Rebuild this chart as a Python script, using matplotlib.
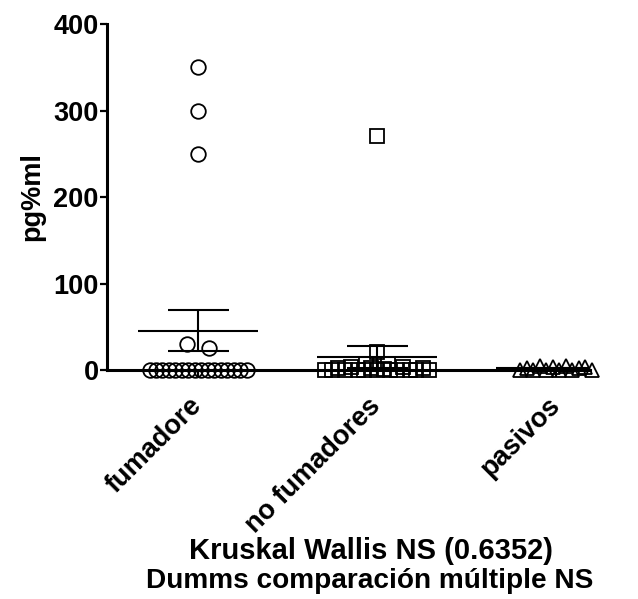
import numpy as np
import matplotlib
matplotlib.use("Agg")
import matplotlib.pyplot as plt

plt.rcParams["font.family"] = ["Liberation Sans", "DejaVu Sans"]
plt.rcParams["font.weight"] = "bold"

# data
groups = ["fumadore", "no fumadores", "pasivos"]
fumadores = [350, 300, 250, 30, 25] + [0] * 16
no_fumadores = [270, 21, 7, 7, 0, 0, 2, 0, 3, 0, 0, 2, 0, 1, 0, 0, 3, 0, 0, 2, 0]
pasivos = [0, 2, 0, 5, 0, 3, 0, 5, 0, 2, 4, 0]
yticks = [0, 100, 200, 300, 400]
footer = ["Kruskal Wallis NS (0.6352)", "Dumms comparación múltiple NS"]

markers = ["o", "s", "^"]
PX = 179.0  # pixels per group unit on x


def spread(values, tol=6.0):
    # put close values in rows and spread each row sideways (Prism style)
    vals = np.asarray(values, float)
    order = np.argsort(vals, kind="stable")
    rows = []
    for k in order:
        if rows and vals[k] - vals[rows[-1][0]] < tol:
            rows[-1].append(k)
        else:
            rows.append([k])
    xs, ys = [], []
    for row in rows:
        row = sorted(row)  # keep listed order inside a row
        n = len(row)
        step = 22.0 if n <= 3 else 6.5
        off = (np.arange(n) - (n - 1) / 2) * step / PX
        xs.extend(off)
        ys.extend(vals[row])
    return np.array(xs), np.array(ys)


fig = plt.figure(figsize=(6.38, 5.99), dpi=100)
ax = fig.add_axes([0.1677, 0.3823, 0.757, 0.5776])

for i, data in enumerate([fumadores, no_fumadores, pasivos]):
    dx, dy = spread(data)
    ax.plot(i + dx, dy, linestyle="none", marker=markers[i], markersize=10.5,
            markerfacecolor="none", markeredgecolor="black", markeredgewidth=1.3,
            clip_on=False, zorder=3)
    arr = np.asarray(data, float)
    m = arr.mean()
    sem = arr.std(ddof=1) / np.sqrt(len(arr))
    ax.hlines(m, i - 0.335, i + 0.335, color="black", lw=1.5, zorder=4)
    ax.hlines([m - sem, m + sem], i - 0.17, i + 0.17, color="black", lw=1.5, zorder=4)
    ax.vlines(i, m - sem, m + sem, color="black", lw=1.5, zorder=4)

ax.set_xlim(-0.51, 2.19)
ax.set_ylim(0, 400)
ax.set_yticks(yticks)
ax.set_xticks(range(len(groups)))
ax.set_xticklabels(groups, rotation=45, ha="right", va="center", rotation_mode="anchor",
                   fontsize=19.5, fontweight="bold")
ax.tick_params(axis="y", labelsize=19.5, length=5, width=1.6, pad=1)
ax.tick_params(axis="x", length=5, width=1.6, pad=18)
for lab in ax.get_yticklabels():
    lab.set_fontweight("bold")
ax.set_ylabel("pg%ml", fontsize=19.5, fontweight="bold", labelpad=6)

for s in ["top", "right"]:
    ax.spines[s].set_visible(False)
for s in ["left", "bottom"]:
    ax.spines[s].set_linewidth(2.2)

fig.text(0.582, 0.067, footer[0], ha="center", va="baseline", fontsize=21, fontweight="bold")
fig.text(0.58, 0.018, footer[1], ha="center", va="baseline", fontsize=20.2, fontweight="bold")

fig.savefig("out.png", dpi=100)
